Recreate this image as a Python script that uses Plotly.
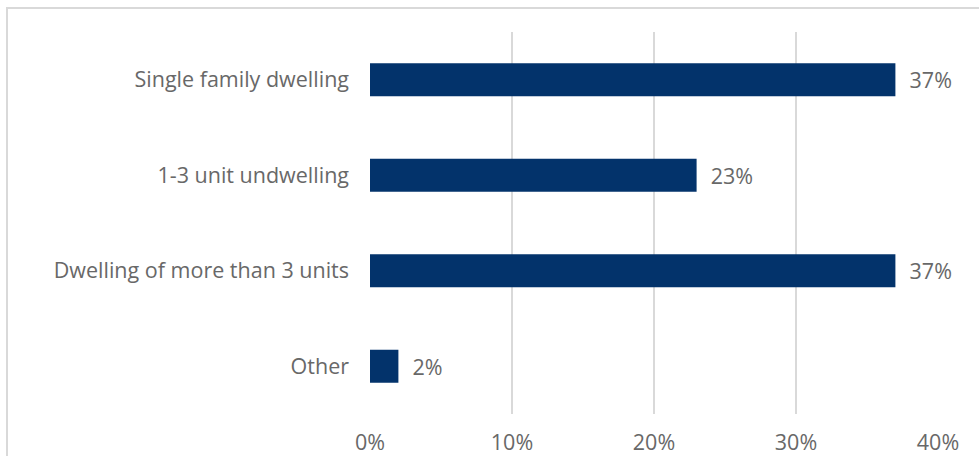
import plotly.graph_objects as go

categories = ["Single family dwelling", "1-3 unit undwelling", "Dwelling of more than 3 units", "Other"]
values = [37, 23, 37, 2]
labels = ["37%", "23%", "37%", "2%"]
tick_vals = [0, 10, 20, 30, 40]
tick_text = ["0%", "10%", "20%", "30%", "40%"]

gray = "#686868"
font = "Open Sans"
fs = 21.5

fig = go.Figure()
fig.add_trace(go.Bar(
    y=categories, x=values, orientation="h",
    marker=dict(color="#03336B", line=dict(width=0)),
    text=["  " + t for t in labels], textposition="outside",
    textfont=dict(color=gray, size=fs, family=font),
    cliponaxis=False, width=0.345,
))

fig.update_layout(
    width=979, height=456,
    margin=dict(l=370, r=41, t=32, b=42),
    paper_bgcolor="white", plot_bgcolor="white",
    showlegend=False,
    font=dict(family=font, color=gray, size=fs),
    xaxis=dict(range=[0, 40], tickvals=tick_vals, ticktext=tick_text,
               showgrid=True, gridcolor="#d9d9d9", gridwidth=1.5,
               zeroline=False, showline=False, ticklabelstandoff=13,
               automargin=False, tickfont=dict(size=fs, color=gray)),
    yaxis=dict(categoryorder="array", categoryarray=categories[::-1],
               showgrid=False, zeroline=False, showline=False,
               automargin=False,
               ticklabelstandoff=20, tickfont=dict(size=fs, color=gray)),
    shapes=[dict(type="rect", xref="paper", yref="paper",
                 x0=(7 - 370) / 568, x1=1.2, y0=-0.3, y1=1 + (32 - 8) / 382,
                 line=dict(color="#d9d9d9", width=2), layer="below")],
)

fig.write_html("out.html", config={"displayModeBar": False},
               post_script="document.body.style.margin='0';document.body.style.padding='0';")
